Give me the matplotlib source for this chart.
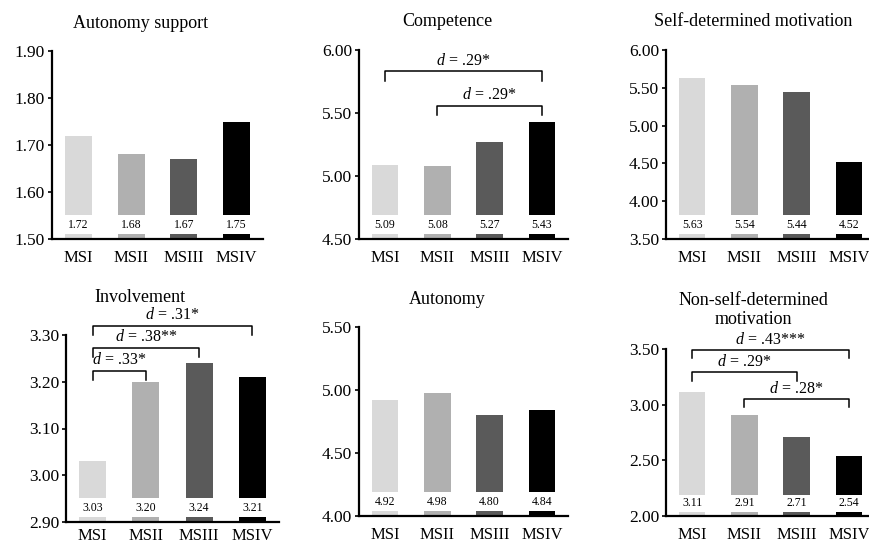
import matplotlib
matplotlib.use('Agg')
import matplotlib.pyplot as plt
from matplotlib.transforms import blended_transform_factory

plt.rcParams['font.family'] = ['Liberation Serif', 'DejaVu Serif']
plt.rcParams['mathtext.fontset'] = 'custom'
plt.rcParams['mathtext.it'] = 'Liberation Serif:italic'
plt.rcParams['mathtext.rm'] = 'Liberation Serif'

# data
groups = ['MSI', 'MSII', 'MSIII', 'MSIV']
bar_colors = ['#d9d9d9', '#b0b0b0', '#5a5a5a', '#000000']

autonomy_support = [1.72, 1.68, 1.67, 1.75]
competence = [5.09, 5.08, 5.27, 5.43]
self_det = [5.63, 5.54, 5.44, 4.52]
involvement = [3.03, 3.20, 3.24, 3.21]
autonomy = [4.92, 4.98, 4.80, 4.84]
non_self_det = [3.11, 2.91, 2.71, 2.54]

titles = ['Autonomy support', 'Competence', 'Self-determined motivation',
          'Involvement', 'Autonomy', 'Non-self-determined\nmotivation']
series = [autonomy_support, competence, self_det, involvement, autonomy, non_self_det]
ylims = [(1.50, 1.90), (4.50, 6.00), (3.50, 6.00), (2.90, 3.30), (4.00, 5.50), (2.00, 3.50)]
ysteps = [0.10, 0.50, 0.50, 0.10, 0.50, 0.50]

# effect-size brackets: (from, to, label)
brackets = [
    [],
    [(0, 3, '.29*'), (1, 3, '.29*')],
    [],
    [(0, 3, '.31*'), (0, 2, '.38**'), (0, 1, '.33*')],
    [],
    [(0, 3, '.43***'), (0, 2, '.29*'), (1, 3, '.28*')],
]
# bracket line heights (data units)
bracket_y = [
    [],
    [5.83, 5.556],
    [],
    [3.319, 3.272, 3.223],
    [],
    [3.49, 3.29, 3.05],
]

# layout in pixels (left, top, right, bottom) on an 870x546 canvas
W, H = 870, 546
boxes = [(52, 51, 263, 239), (359, 50, 568, 239), (666, 50, 875, 239),
         (66, 335, 279, 522), (359, 327, 568, 516), (666, 349, 875, 516)]
title_pos = [(141, 23), (447, 22), (753, 22), (140, 298), (447, 300), (753, 310)]
xpads = [8, 8, 8, 4, 8, 8]

fig = plt.figure(figsize=(W / 100, H / 100), dpi=100)

for k in range(6):
    l, t, r, b = boxes[k]
    ax = fig.add_axes([l / W, (H - b) / H, (r - l) / W, (b - t) / H])
    lo, hi = ylims[k]
    x = range(len(groups))
    ax.bar(x, series[k], width=0.51, color=bar_colors, bottom=0, zorder=1)
    ax.set_xlim(-0.5, 3.5)
    ax.set_ylim(lo, hi)
    n = int(round((hi - lo) / ysteps[k]))
    ticks = [lo + i * ysteps[k] for i in range(n + 1)]
    ax.set_yticks(ticks)
    ax.set_yticklabels(['%.2f' % v for v in ticks], fontsize=12.5)
    ax.set_xticks(list(x))
    ax.set_xticklabels(groups, fontsize=12)
    ax.tick_params(axis='x', length=0, pad=xpads[k])
    ax.tick_params(axis='y', length=3, width=1.2, pad=2)
    for s in ['top', 'right']:
        ax.spines[s].set_visible(False)
    for s in ['left', 'bottom']:
        ax.spines[s].set_linewidth(1.6)
        ax.spines[s].set_zorder(5)

    # white label band near the base of each bar
    trans = blended_transform_factory(ax.transData, ax.transAxes)
    for i, v in enumerate(series[k]):
        ax.add_patch(plt.Rectangle((i - 0.3, 0.026), 0.6, 0.1, transform=trans,
                                   facecolor='white', edgecolor='none', zorder=2))
        ax.text(i, 0.076, '%.2f' % v, transform=trans, ha='center', va='center',
                fontsize=8.5, zorder=3)

    # brackets
    span = hi - lo
    for (i, j, lab), yb in zip(brackets[k], bracket_y[k]):
        drop = span * 0.05
        ax.plot([i, i, j, j], [yb - drop, yb, yb, yb - drop], color='black',
                lw=1.1, clip_on=False, zorder=4)
        ax.text((i + j) / 2, yb + span * 0.015, r'$d$ = ' + lab, ha='center',
                va='bottom', fontsize=11.5, clip_on=False)

    tx, ty = title_pos[k]
    fig.text(tx / W, 1 - ty / H, titles[k], ha='center', va='center',
             fontsize=13, linespacing=1.15)

fig.savefig('out.png', dpi=100)
